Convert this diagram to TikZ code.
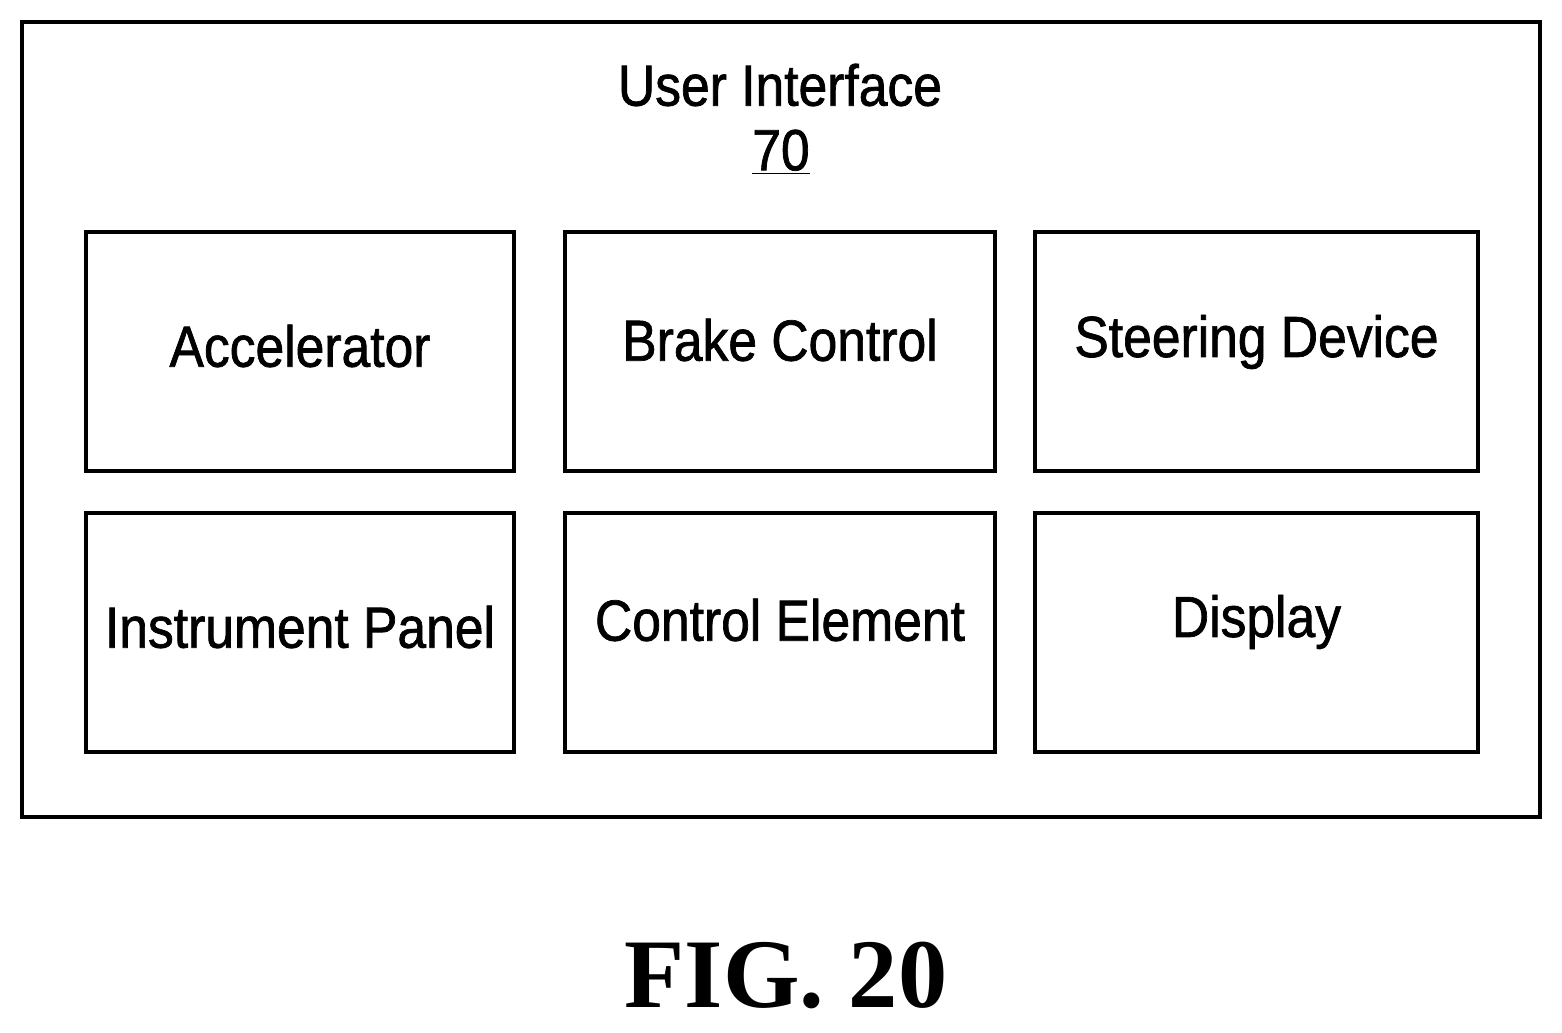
\documentclass[tikz,border=0pt]{standalone}
\usepackage{fontspec}
\setmainfont{Liberation Sans}[FakeStretch=0.89,FakeBold=1.2]
\newfontfamily\figfont{Liberation Serif}
\begin{document}
\begin{tikzpicture}[x=0.02cm,y=-0.02cm,
  box/.style={draw,line width=1.8pt},
  lbl/.style={font=\fontsize{33}{36}\selectfont,inner sep=0}]
\useasboundingbox (0,0) rectangle (1562,1033);
\draw[box] (22,22) rectangle (1540,817);
\node[lbl] (title) at (780,85) {User Interface};
\node[lbl] (num) at (781,152) {\underline{70}};
\foreach \n/\xa/\xb/\ya/\yb/\ty/\t in {
 acc/86/514/232/471/346/Accelerator,
 brk/565/995/232/471/340/Brake Control,
 str/1035/1478/232/471/342/Steering Device,
 ins/86/514/513/752/627/Instrument Panel,
 ctl/565/995/513/752/620/Control Element,
 dsp/1035/1478/513/752/622/Display}{
  \draw[box] (\xa,\ya) rectangle (\xb,\yb);
  \node[lbl] (\n) at ({(\xa+\xb)/2},\ty) {\t};
}
\node[font=\figfont\bfseries\fontsize{56}{60}\selectfont,inner sep=0] (fig) at (786,975) {FIG. 20};
\end{tikzpicture}
\end{document}
